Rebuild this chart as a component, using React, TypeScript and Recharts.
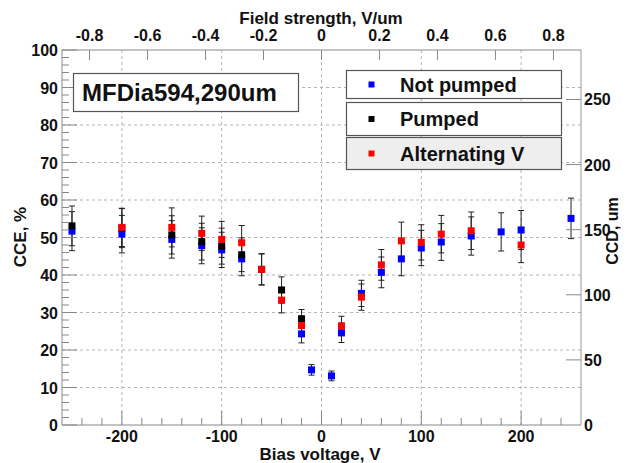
import React from "react";
import { ComposedChart, Scatter, XAxis, YAxis, ErrorBar, ReferenceLine } from "recharts";

// ==================== DATA ====================
const notPumpedV = [-250, -200, -150, -120, -100, -80, -20, -10, 10, 20, 40, 60, 80, 100, 120, 150, 180, 200, 250];
const notPumpedCCE = [51.7, 50.9, 49.5, 47.8, 46.7, 44.3, 24.3, 14.7, 13.1, 24.6, 35.1, 40.7, 44.3, 47.2, 48.8, 50.4, 51.5, 52.0, 55.1];
const notPumpedErr = [5.2, 5.0, 5.0, 4.8, 4.7, 4.5, 2.4, 1.4, 1.3, 2.6, 3.5, 4.1, 4.5, 4.7, 4.9, 5.1, 5.1, 5.2, 5.4];

const pumpedV = [-250, -200, -150, -120, -100, -80, -60, -40, -20];
const pumpedCCE = [53.1, 52.5, 50.7, 48.9, 47.7, 45.4, 41.5, 36.0, 28.3];
const pumpedErr = [5.3, 5.2, 5.1, 4.9, 4.8, 4.5, 4.2, 3.5, 2.5];

const altV = [-200, -150, -120, -100, -80, -60, -40, -20, 20, 40, 60, 80, 100, 120, 150, 200];
const altCCE = [52.7, 52.7, 51.1, 49.5, 48.6, 41.5, 33.3, 26.5, 26.4, 34.1, 42.7, 49.1, 48.7, 50.9, 51.8, 48.0];
const altErr = [5.1, 5.2, 4.6, 4.8, 4.6, 4.1, 3.4, 2.6, 2.6, 3.5, 4.1, 5.0, 4.7, 5.0, 5.0, 4.7];

const seriesNames = ["Not pumped", "Pumped", "Alternating V"];
const seriesColors = ["#0000ff", "#000000", "#ff0000"];

const biasTicks = [-240, -220, -200, -180, -160, -140, -120, -100, -80, -60, -40, -20, 0, 20, 40, 60, 80, 100, 120, 140, 160, 180, 200, 220, 240];
const biasGrid = [-200, -100, 0, 100, 200];
const fieldTicks = [-0.8, -0.6, -0.4, -0.2, 0, 0.2, 0.4, 0.6, 0.8];
const cceTicks = Array.from({ length: 51 }, (_, i) => i * 2);
const cceGrid = [10, 20, 30, 40, 50, 60, 70, 80, 90];
const ccdTicks = [0, 50, 100, 150, 200, 250];

const toRows = (v: number[], y: number[], e: number[]) => v.map((x, i) => ({ v: x, cce: y[i], err: e[i] }));
const seriesData = [
  toRows(notPumpedV, notPumpedCCE, notPumpedErr),
  toRows(pumpedV, pumpedCCE, pumpedErr),
  toRows(altV, altCCE, altErr),
];
// anchor rows so the field-strength axis has something bound to it
const fieldAnchor = fieldTicks.map((f) => ({ f, cce: 0 }));

const font = "'Liberation Sans', Arial, Helvetica, sans-serif";
const axisGrey = "#888";

// ==================== TICKS ====================
const LeftTick = (p: any) => {
  const v = p.payload.value;
  const major = v % 10 === 0;
  return (
    <g>
      <line x1={p.x} x2={p.x + (major ? 15 : 7)} y1={p.y} y2={p.y} stroke={axisGrey} />
      {major && (
        <text x={p.x - 4} y={p.y + 6} textAnchor="end" fontSize={16} fontWeight="bold" fill="#111" fontFamily={font}>
          {v}
        </text>
      )}
    </g>
  );
};

const RightTick = (p: any) => {
  const v = p.payload.value;
  return (
    <g>
      {v > 0 && <line x1={p.x} x2={p.x - 15} y1={p.y} y2={p.y} stroke={axisGrey} />}
      <text x={p.x + 3} y={p.y + 6} textAnchor="start" fontSize={16} fontWeight="bold" fill="#111" fontFamily={font}>
        {v}
      </text>
    </g>
  );
};

const BottomTick = (p: any) => {
  const v = p.payload.value;
  const major = v % 100 === 0;
  return (
    <g>
      <line x1={p.x} x2={p.x} y1={p.y} y2={p.y - (major ? 14 : 7)} stroke={axisGrey} />
      {major && (
        <text x={p.x} y={p.y + 17} textAnchor="middle" fontSize={16} fontWeight="bold" fill="#111" fontFamily={font}>
          {v}
        </text>
      )}
    </g>
  );
};

const TopTick = (p: any) => {
  const v = p.payload.value;
  return (
    <g>
      <line x1={p.x} x2={p.x} y1={p.y} y2={p.y + 10} stroke={axisGrey} />
      <text x={p.x} y={p.y - 9} textAnchor="middle" fontSize={16} fontWeight="bold" fill="#111" fontFamily={font}>
        {String(v)}
      </text>
    </g>
  );
};

const square = (fill: string) => (props: any) => (
  <rect x={props.cx - 3.5} y={props.cy - 3.5} width={7} height={7} fill={fill} />
);
const nothing = () => <g />;

// ==================== CHART ====================
export default function App() {
  const boxTops = [70, 102, 137];
  const boxHeights = [28, 33, 32];
  return (
    <div style={{ position: "absolute", left: 0, top: 0, width: 629, height: 463, background: "#fff" }}>
      <ComposedChart width={629} height={463} margin={{ top: 0, right: 0, bottom: 0, left: 0 }}>
        <XAxis
          xAxisId="bottom"
          type="number"
          dataKey="v"
          domain={[-260, 260]}
          ticks={biasTicks}
          interval={0}
          height={38}
          tickSize={0}
          tickMargin={0}
          tickLine={false}
          tick={BottomTick}
          stroke={axisGrey}
          allowDataOverflow
        />
        <XAxis
          xAxisId="top"
          orientation="top"
          type="number"
          dataKey="f"
          domain={[-0.895, 0.895]}
          ticks={fieldTicks}
          interval={0}
          height={50}
          tickSize={0}
          tickMargin={0}
          tickLine={false}
          tick={TopTick}
          stroke={axisGrey}
          allowDataOverflow
        />
        <YAxis
          yAxisId="left"
          type="number"
          domain={[0, 100]}
          ticks={cceTicks}
          interval={0}
          width={62}
          tickSize={0}
          tickMargin={0}
          tickLine={false}
          tick={LeftTick}
          stroke={axisGrey}
          allowDataOverflow
        />
        <YAxis
          yAxisId="right"
          orientation="right"
          type="number"
          domain={[0, 288]}
          ticks={ccdTicks}
          interval={0}
          width={48}
          tickSize={0}
          tickMargin={0}
          tickLine={false}
          tick={RightTick}
          stroke="#999"
          allowDataOverflow
        />
        {cceGrid.map((g) => (
          <ReferenceLine key={"h" + g} y={g} xAxisId="bottom" yAxisId="left" stroke="#b5b5b5" strokeDasharray="3 3" />
        ))}
        {biasGrid.map((g) => (
          <ReferenceLine key={"v" + g} x={g} xAxisId="bottom" yAxisId="left" stroke="#b5b5b5" strokeDasharray="3 3" />
        ))}
        <Scatter
          data={fieldAnchor}
          dataKey="cce"
          xAxisId="top"
          yAxisId="left"
          shape={nothing}
          legendType="none"
          isAnimationActive={false}
        />
        {seriesData.map((d, i) => (
          <Scatter
            key={seriesNames[i]}
            name={seriesNames[i]}
            data={d}
            dataKey="cce"
            xAxisId="bottom"
            yAxisId="left"
            fill={seriesColors[i]}
            shape={square(seriesColors[i])}
            isAnimationActive={false}
          >
            <ErrorBar dataKey="err" direction="y" width={3} stroke="#222" strokeWidth={1} />
          </Scatter>
        ))}
      </ComposedChart>

      <svg width={629} height={463} style={{ position: "absolute", left: 0, top: 0, pointerEvents: "none" }}>
        <g fontFamily={font} fontWeight="bold" fill="#111">
          <text x={321} y={24} textAnchor="middle" fontSize={17}>Field strength, V/um</text>
          <text x={320} y={460} textAnchor="middle" fontSize={17}>Bias voltage, V</text>
          <text x={26} y={237} textAnchor="middle" fontSize={17} transform="rotate(-90 26 237)">CCE, %</text>
          <text x={618} y={231} textAnchor="middle" fontSize={16} transform="rotate(-90 618 231)">CCD, um</text>
        </g>

        <rect x={73.5} y={73.5} width={225} height={38} fill="#fff" stroke="#555" strokeWidth={1.2} />
        <text x={82} y={101} fontFamily={font} fontWeight="bold" fontSize={24} fill="#111">MFDia594,290um</text>

        {seriesNames.map((n, i) => (
          <g key={n}>
            <rect
              x={346.5}
              y={boxTops[i] + 0.5}
              width={215}
              height={boxHeights[i]}
              fill={i === 2 ? "#eeeeee" : "#fff"}
              stroke="#555"
              strokeWidth={1.2}
            />
            <rect x={368.5} y={boxTops[i] + boxHeights[i] / 2 - 2.5} width={6} height={6} fill={seriesColors[i]} />
            <text
              x={400}
              y={boxTops[i] + boxHeights[i] / 2 + 7.5}
              fontFamily={font}
              fontWeight="bold"
              fontSize={20}
              fill="#111"
            >
              {n}
            </text>
          </g>
        ))}
      </svg>
    </div>
  );
}
